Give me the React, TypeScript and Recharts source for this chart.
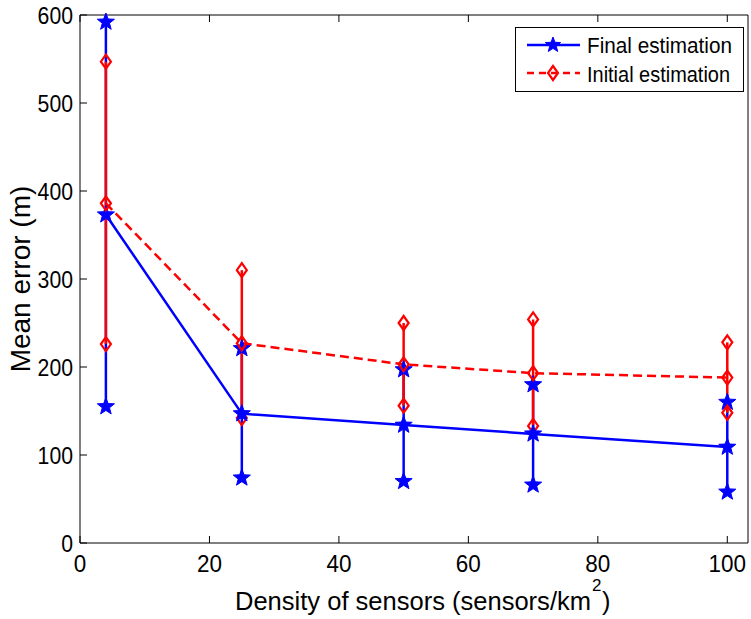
import React from "react";
import {
  ComposedChart,
  Line,
  Scatter,
  ErrorBar,
  XAxis,
  YAxis,
  Legend,
} from "recharts";

const densities = [4, 25, 50, 70, 100];
const finalMean = [373, 147, 134, 124, 109];
const finalLow = [155, 74, 70, 66, 58];
const finalHigh = [592, 221, 197, 180, 160];
const initialMean = [386, 227, 203, 193, 188];
const initialLow = [226, 142, 156, 133, 148];
const initialHigh = [547, 310, 250, 254, 228];

const xTicks = [0, 20, 40, 60, 80, 100];
const yTicks = [0, 100, 200, 300, 400, 500, 600];

const BLUE = "#0000ff";
const RED = "#ff0000";
const FONT = "'Liberation Sans', Arial, Helvetica, sans-serif";
const TICK_LEN = 7;

const data = densities.map((d, i) => ({
  x: d,
  final: finalMean[i],
  finalErr: [finalMean[i] - finalLow[i], finalHigh[i] - finalMean[i]],
  initial: initialMean[i],
  initialErr: [initialMean[i] - initialLow[i], initialHigh[i] - initialMean[i]],
}));

const finalEnds = densities.flatMap((d, i) => [
  { x: d, y: finalLow[i] },
  { x: d, y: finalHigh[i] },
]);
const initialEnds = densities.flatMap((d, i) => [
  { x: d, y: initialLow[i] },
  { x: d, y: initialHigh[i] },
]);

function starPoints(cx: number, cy: number, r: number) {
  const pts: string[] = [];
  for (let k = 0; k < 10; k++) {
    const rad = k % 2 === 0 ? r : r * 0.42;
    const a = -Math.PI / 2 + (k * Math.PI) / 5;
    pts.push(`${cx + rad * Math.cos(a)},${cy + rad * Math.sin(a)}`);
  }
  return pts.join(" ");
}

function StarMark({ cx, cy, r = 9 }: any) {
  if (cx == null || cy == null) return null;
  return <polygon points={starPoints(cx, cy, r)} fill={BLUE} stroke={BLUE} strokeWidth={1} />;
}

function DiamondMark({ cx, cy }: any) {
  if (cx == null || cy == null) return null;
  const w = 5;
  const h = 7;
  return (
    <polygon
      points={`${cx},${cy - h} ${cx + w},${cy} ${cx},${cy + h} ${cx - w},${cy}`}
      fill="none"
      stroke={RED}
      strokeWidth={2.2}
    />
  );
}

// ticks drawn inward, MATLAB style
function BottomTick({ x, y, payload }: any) {
  const axisY = y - 8;
  const s = String(payload.value);
  return (
    <g>
      <line x1={x} y1={axisY} x2={x} y2={axisY - TICK_LEN} stroke="#000" />
      <text
        x={x}
        y={axisY + 29}
        textAnchor="middle"
        fontSize={24}
        fontFamily={FONT}
        fill="#000"
        textLength={s.length * 12.5}
        lengthAdjust="spacingAndGlyphs"
      >
        {s}
      </text>
    </g>
  );
}

function LeftTick({ x, y, payload }: any) {
  const axisX = x + 7;
  const s = String(payload.value);
  return (
    <g>
      <line x1={axisX} y1={y} x2={axisX + TICK_LEN} y2={y} stroke="#000" />
      <text
        x={x}
        y={y}
        dy="0.36em"
        textAnchor="end"
        fontSize={24}
        fontFamily={FONT}
        fill="#000"
        textLength={s.length * 11.8}
        lengthAdjust="spacingAndGlyphs"
      >
        {s}
      </text>
    </g>
  );
}

function TopTick({ x, y }: any) {
  return <line x1={x} y1={y} x2={x} y2={y + TICK_LEN} stroke="#000" />;
}

function RightTick({ x, y }: any) {
  return <line x1={x} y1={y} x2={x - TICK_LEN} y2={y} stroke="#000" />;
}

function XLabel({ viewBox }: any) {
  const cx = viewBox.x + viewBox.width / 2;
  const start = cx - 179;
  const base = viewBox.y + 67;
  return (
    <g fontFamily={FONT} fill="#000">
      <text x={start} y={base} fontSize={25.5} textLength={356} lengthAdjust="spacingAndGlyphs">
        Density of sensors (sensors/km
      </text>
      <text x={start + 357} y={base - 19} fontSize={17}>
        2
      </text>
      <text x={start + 367} y={base} fontSize={25.5}>
        )
      </text>
    </g>
  );
}

function YLabel({ viewBox }: any) {
  const x = viewBox.x + 30;
  const y = viewBox.y + viewBox.height / 2;
  return (
    <text
      x={x}
      y={y}
      transform={`rotate(-90, ${x}, ${y})`}
      textAnchor="middle"
      fontSize={28}
      fontFamily={FONT}
      fill="#000"
    >
      Mean error (m)
    </text>
  );
}

function LegendBox() {
  return (
    <svg width={230} height={66} style={{ display: "block" }}>
      <rect x={0.5} y={0.5} width={228} height={64} fill="#fff" stroke="#000" strokeWidth={1} />
      <line x1={12} y1={18} x2={65} y2={18} stroke={BLUE} strokeWidth={2.5} />
      <StarMark cx={38} cy={18} r={8} />
      <text x={72} y={26} fontSize={22} fontFamily={FONT} textLength={145} lengthAdjust="spacingAndGlyphs">
        Final estimation
      </text>
      <line x1={12} y1={46} x2={65} y2={46} stroke={RED} strokeWidth={2.5} strokeDasharray="7 5" />
      <DiamondMark cx={38} cy={46} />
      <text x={72} y={55} fontSize={22} fontFamily={FONT} textLength={143} lengthAdjust="spacingAndGlyphs">
        Initial estimation
      </text>
    </svg>
  );
}

export default function App() {
  return (
    <div style={{ position: "absolute", left: 0, top: 0, width: 751, height: 619, background: "#fff" }}>
      <ComposedChart
        width={751}
        height={619}
        data={data}
        margin={{ top: 14, right: 2, left: 0, bottom: 0 }}
      >
        <XAxis
          xAxisId="b"
          dataKey="x"
          type="number"
          domain={[0, 103.2]}
          ticks={xTicks}
          height={76}
          tickSize={0}
          tickMargin={8}
          tickLine={false}
          axisLine={{ stroke: "#000" }}
          tick={<BottomTick />}
          label={<XLabel />}
        />
        <XAxis
          xAxisId="t"
          dataKey="x"
          type="number"
          orientation="top"
          domain={[0, 103.2]}
          ticks={xTicks}
          height={1}
          tickSize={0}
          tickMargin={0}
          tickLine={false}
          axisLine={{ stroke: "#000" }}
          tick={<TopTick />}
        />
        <YAxis
          yAxisId="l"
          type="number"
          domain={[0, 600]}
          ticks={yTicks}
          width={80}
          tickSize={0}
          tickMargin={7}
          tickLine={false}
          axisLine={{ stroke: "#000" }}
          tick={<LeftTick />}
          label={<YLabel />}
        />
        <YAxis
          yAxisId="r"
          type="number"
          orientation="right"
          domain={[0, 600]}
          ticks={yTicks}
          width={1}
          tickSize={0}
          tickMargin={0}
          tickLine={false}
          axisLine={{ stroke: "#000" }}
          tick={<RightTick />}
        />
        <Legend
          layout="horizontal"
          verticalAlign="middle"
          align="center"
          wrapperStyle={{ top: 27, left: 515, width: 230, height: 66 }}
          content={() => <LegendBox />}
        />

        <Line
          xAxisId="b"
          yAxisId="l"
          dataKey="final"
          stroke={BLUE}
          strokeWidth={2.5}
          type="linear"
          isAnimationActive={false}
          dot={(p: any) => <StarMark key={`fd${p.index}`} cx={p.cx} cy={p.cy} />}
          activeDot={false}
        >
          <ErrorBar dataKey="finalErr" direction="y" width={0} stroke={BLUE} strokeWidth={2.5} isAnimationActive={false} />
        </Line>
        <Scatter
          xAxisId="b"
          yAxisId="l"
          data={finalEnds}
          dataKey="y"
          isAnimationActive={false}
          shape={(p: any) => <StarMark cx={p.cx} cy={p.cy} />}
        />

        <Line
          xAxisId="b"
          yAxisId="l"
          dataKey="initial"
          stroke={RED}
          strokeWidth={2.5}
          strokeDasharray="9 5"
          type="linear"
          isAnimationActive={false}
          dot={(p: any) => <DiamondMark key={`id${p.index}`} cx={p.cx} cy={p.cy} />}
          activeDot={false}
        >
          <ErrorBar dataKey="initialErr" direction="y" width={0} stroke={RED} strokeWidth={2.5} isAnimationActive={false} />
        </Line>
        <Scatter
          xAxisId="b"
          yAxisId="l"
          data={initialEnds}
          dataKey="y"
          isAnimationActive={false}
          shape={(p: any) => <DiamondMark cx={p.cx} cy={p.cy} />}
        />
      </ComposedChart>
    </div>
  );
}
